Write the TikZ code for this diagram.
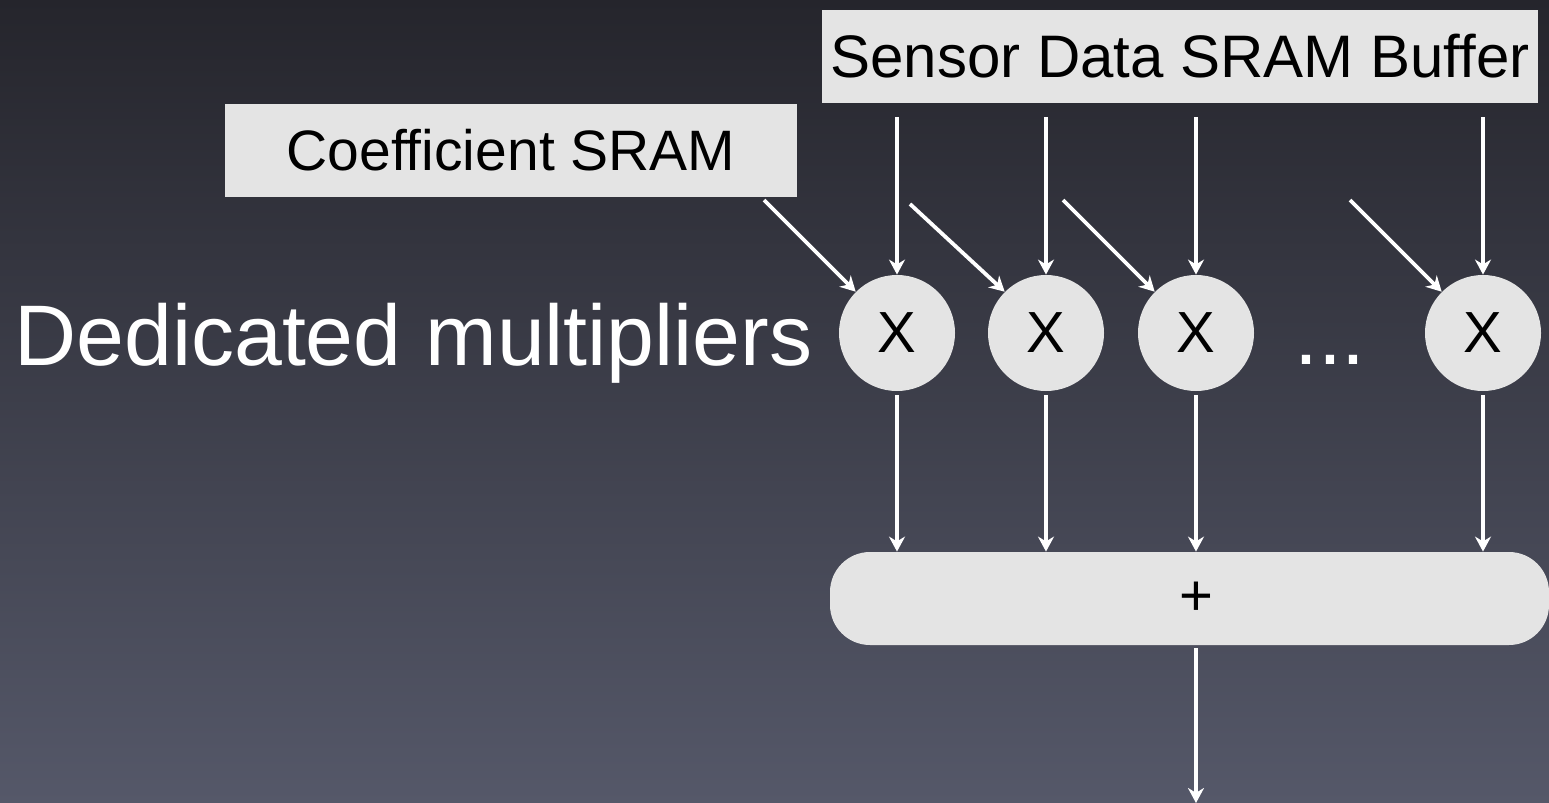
\documentclass[tikz,border=0pt]{standalone}
\usepackage{fontspec}
\setmainfont{Liberation Sans}
\usetikzlibrary{arrows.meta}
\definecolor{bgtop}{HTML}{25252C}
\definecolor{bgbot}{HTML}{555869}
\definecolor{boxfill}{HTML}{E4E4E4}
\tikzset{
  membox/.style={rectangle, fill=boxfill, draw=none, inner sep=0pt, text=black},
  mulnode/.style={circle, fill=boxfill, draw=none, minimum size=58pt, inner sep=0pt, text=black, font=\fontsize{29}{34}\selectfont},
  sumbox/.style={rectangle, rounded corners=20pt, fill=boxfill, draw=none, inner sep=0pt, text=black, font=\fontsize{29}{34}\selectfont},
  arr/.style={draw=white, line width=1.9pt, -{Stealth[length=7.5pt, width=8pt, inset=2.4pt]}},
  bigtext/.style={text=white, inner sep=0pt, font=\fontsize{43}{50}\selectfont},
}
\begin{document}
\begin{tikzpicture}[x=0.5pt, y=-0.5pt]
\useasboundingbox (0,0) rectangle (1549,803);
\shade[top color=bgtop, bottom color=bgbot] (0,0) rectangle (1549,803);

\node[membox, minimum width=286pt, minimum height=46.5pt, font=\fontsize{28.5}{34}\selectfont] (coef) at (511,150.5) {Coefficient SRAM};
\node[membox, minimum width=358pt, minimum height=46.5pt, font=\fontsize{30}{36}\selectfont] (sensor) at (1180,56.5) {Sensor Data SRAM Buffer};

\node[bigtext, anchor=base west] (label) at (14,365) {Dedicated multipliers};

\node[mulnode] (c1) at (897,333) {X};
\node[mulnode] (c2) at (1046,333) {X};
\node[mulnode] (c3) at (1196,333) {X};
\node[mulnode] (c4) at (1483,333) {X};
\node[bigtext, anchor=base] (dots) at (1330,364) {...};

\node[sumbox, minimum width=359.5pt, minimum height=46.5pt] (sum) at (1189.5,598.5) {\hspace*{7pt}+};

\coordinate (d1) at (764,200);
\coordinate (d2) at (910,204);
\coordinate (d3) at (1063,200);
\coordinate (d4) at (1350,200);
\coordinate (out) at (1196,803);

\foreach \c in {c1,c2,c3,c4}{
  \draw[arr, shorten <=7pt] (\c |- sensor.south) -- (\c.north);
  \draw[arr, shorten <=2pt] (\c.south) -- (\c |- sum.north);
}
\draw[arr] (d1) -- (c1.north west);
\draw[arr] (d2) -- (c2.north west);
\draw[arr] (d3) -- (c3.north west);
\draw[arr] (d4) -- (c4.north west);
\draw[arr, shorten <=1.5pt] (sum.south -| out) -- (out);
\end{tikzpicture}
\end{document}
